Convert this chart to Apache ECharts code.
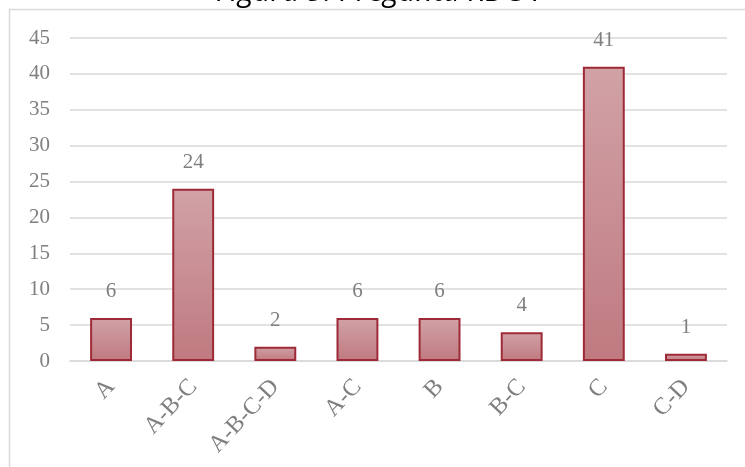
<!DOCTYPE html>
<html>
<head>
<meta charset="utf-8">
<script src="https://cdn.jsdelivr.net/npm/echarts@6/dist/echarts.min.js"></script>
<style>html,body{margin:0;padding:0;background:#fff;}#c{width:745px;height:467px;}</style>
</head>
<body>
<div id="c"></div>
<script>
const titleText = 'Figura 9. Pregunta RDC 7';
const categories = ['A', 'A-B-C', 'A-B-C-D', 'A-C', 'B', 'B-C', 'C', 'C-D'];
const values = [6, 24, 2, 6, 6, 4, 41, 1];
const yTicks = { min: 0, max: 45, interval: 5 };

const serif = "'Liberation Serif', 'DejaVu Serif', serif";
const chart = echarts.init(document.getElementById('c'), null, { renderer: 'canvas' });
chart.setOption({
  backgroundColor: '#ffffff',
  animation: false,
  graphic: [
    { type: 'rect', shape: { x: 9.5, y: 9.5, width: 900, height: 600 }, style: { fill: 'none', stroke: '#d9d9d9', lineWidth: 1.5 }, silent: true },
    { type: 'text', x: 216, y: 7, style: { text: titleText, font: "italic 30px 'Open Sans', sans-serif", fill: '#000', verticalAlign: 'bottom', lineHeight: 30 }, silent: true }
  ],
  grid: { left: 70, right: 18, top: 38, bottom: 106, containLabel: false },
  xAxis: {
    type: 'category',
    data: categories,
    axisLine: { lineStyle: { color: '#d9d9d9', width: 1.5 } },
    axisTick: { show: false },
    axisLabel: { rotate: 47, color: '#7f7f7f', fontFamily: serif, fontSize: 24, margin: 22, interval: 0 }
  },
  yAxis: {
    type: 'value',
    min: yTicks.min, max: yTicks.max, interval: yTicks.interval,
    axisLine: { show: false },
    axisTick: { show: false },
    splitLine: { lineStyle: { color: '#d9d9d9', width: 1.5 } },
    axisLabel: { color: '#7f7f7f', fontFamily: serif, fontSize: 21, margin: 20 }
  },
  series: [{
    type: 'bar',
    data: values,
    barWidth: '51%',
    itemStyle: {
      color: new echarts.graphic.LinearGradient(0, 0, 0, 1, [
        { offset: 0, color: '#d1a2a6' },
        { offset: 1, color: '#bf7a80' }
      ]),
      borderColor: '#9e2a38',
      borderWidth: 2
    },
    label: { show: true, position: 'top', distance: 16, color: '#7f7f7f', fontFamily: serif, fontSize: 21 }
  }]
});
</script>
</body>
</html>
